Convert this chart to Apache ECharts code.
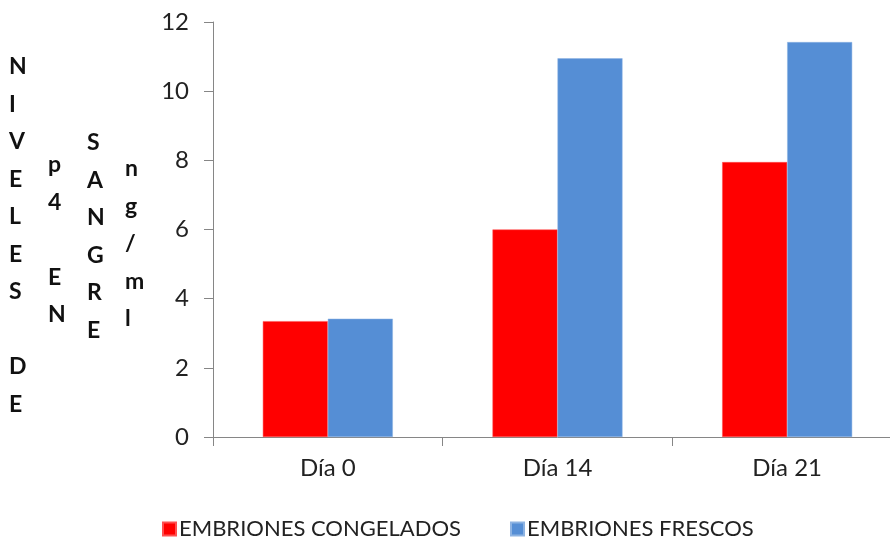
<!DOCTYPE html>
<html>
<head>
<meta charset="utf-8">
<script src="https://cdn.jsdelivr.net/npm/echarts@6/dist/echarts.min.js"></script>
<style>
  html, body { margin: 0; padding: 0; background: #ffffff; overflow: hidden; }
  #chart { width: 902px; height: 540px; }
</style>
</head>
<body>
<div id="chart"></div>
<script>
// Progesterone (p4) blood levels, ng/ml, by day
const categories = ['Día 0', 'Día 14', 'Día 21'];
const seriesNames = ['EMBRIONES CONGELADOS', 'EMBRIONES FRESCOS'];
const congelados = [3.35, 6.0, 7.95];
const frescos = [3.42, 10.95, 11.42];
const yTicks = [0, 2, 4, 6, 8, 10, 12];

// Stacked-letter axis title, one column per word group
const titleColumns = [
  { x: 21, y: 48, text: 'N\nI\nV\nE\nL\nE\nS\n\nD\nE' },
  { x: 60, y: 146, text: 'p\n4\n\nE\nN' },
  { x: 99, y: 124, text: 'S\nA\nN\nG\nR\nE' },
  { x: 137, y: 150, text: 'n\ng\n/\nm\nl' }
];

const FONT = 'Lato, "Open Sans", sans-serif';
const AXIS_COLOR = '#868686';

const chart = echarts.init(document.getElementById('chart'), null, { renderer: 'canvas' });

chart.setOption({
  animation: false,
  backgroundColor: '#ffffff',
  textStyle: { fontFamily: FONT },
  grid: { left: 213, top: 22, right: 0, bottom: 103, containLabel: false },
  legend: {
    left: 157,
    top: 513,
    itemWidth: 13,
    itemHeight: 13,
    itemGap: 49,
    icon: 'rect',
    textStyle: { fontFamily: FONT, fontSize: 22, color: '#222222', padding: [0, 0, 0, -2] },
    data: seriesNames
  },
  xAxis: {
    type: 'category',
    data: categories,
    axisLine: { lineStyle: { color: AXIS_COLOR, width: 1 } },
    axisTick: { show: true, length: 9, alignWithLabel: false, lineStyle: { color: AXIS_COLOR } },
    axisLabel: { fontFamily: FONT, fontSize: 24, color: '#222222', margin: 19 }
  },
  yAxis: {
    type: 'value',
    min: yTicks[0],
    max: yTicks[yTicks.length - 1],
    interval: yTicks[1] - yTicks[0],
    splitLine: { show: false },
    axisLine: { show: true, lineStyle: { color: AXIS_COLOR, width: 1 } },
    axisTick: { show: true, length: 9, lineStyle: { color: AXIS_COLOR } },
    axisLabel: { fontFamily: FONT, fontSize: 24, color: '#222222', margin: 24 }
  },
  series: [
    {
      name: seriesNames[0],
      type: 'bar',
      data: congelados,
      barWidth: 65,
      barGap: '0%',
      itemStyle: { color: '#ff0000', borderColor: '#ff5050', borderWidth: 0.5 }
    },
    {
      name: seriesNames[1],
      type: 'bar',
      data: frescos,
      barWidth: 65,
      barGap: '0%',
      itemStyle: { color: '#558ed5', borderColor: '#8db3e2', borderWidth: 0.5 }
    }
  ],
  graphic: titleColumns.map(c => ({
    type: 'text',
    left: c.x - 12,
    top: c.y,
    style: {
      text: c.text,
      fontFamily: FONT,
      fontWeight: 'bold',
      fontSize: 23,
      lineHeight: 37.5,
      fill: '#111111',
      width: 24,
      align: 'center'
    }
  }))
});
</script>
</body>
</html>
